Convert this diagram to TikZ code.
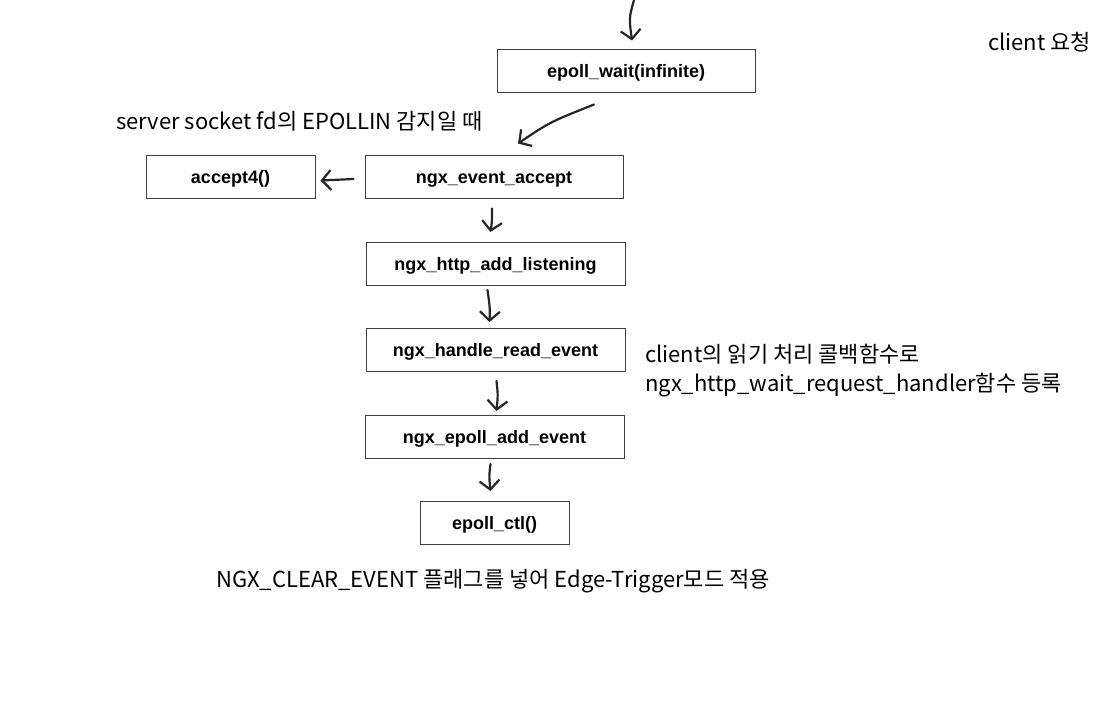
\documentclass[tikz,border=0pt]{standalone}
\usepackage{fontspec}
\setmainfont{Liberation Sans}
\newfontfamily\kr{Noto Sans CJK KR}
\usetikzlibrary{arrows.meta}

\begin{document}
\begin{tikzpicture}[x=1pt,y=-1pt,
  box/.style={draw=black!75,line width=1pt,minimum height=43pt,inner sep=0pt,
    text height=13pt,text depth=0pt,font=\fontsize{18}{20}\selectfont\bfseries},
  note/.style={anchor=west,inner sep=0pt,font=\kr\fontsize{22}{24}\selectfont},
  hand/.style={draw=black!85,line width=2.2pt,line cap=round,line join=round,
    -{Straight Barb[length=9pt,width=20pt]}}]
  \useasboundingbox[fill=white] (0,0) rectangle (1100,713);
  \node[box,minimum width=258pt] (wait) at (626,70.5) {epoll\_wait(infinite)};
  \node[box,minimum width=258pt] (event) at (494,176.5) {ngx\_event\_accept};
  \node[box,minimum width=169pt] (accept) at (230.5,176.5) {accept4()};
  \node[box,minimum width=259pt] (listen) at (495.5,264) {ngx\_http\_add\_listening};
  \node[box,minimum width=259pt] (read) at (495.5,350) {ngx\_handle\_read\_event};
  \node[box,minimum width=259pt] (add) at (494.5,437) {ngx\_epoll\_add\_event};
  \node[box,minimum width=149pt] (ctl) at (494.5,523) {epoll\_ctl()};
  % labels
  \node[note] (request) at (988,42) {client 요청};
  \node[note] (epollin) at (116,121) {server socket fd의 EPOLLIN 감지일 때};
  \node[note] (cb) at (645,354) {client의 읽기 처리 콜백함수로};
  \node[note] (handler) at (645,385) {ngx\_http\_wait\_request\_handler함수 등록};
  \node[note] (clear) at (216,581) {NGX\_CLEAR\_EVENT 플래그를 넣어 Edge-Trigger모드 적용};
  % hand drawn arrows
  \coordinate (top) at (634,0);
  \draw[hand] (top) .. controls (629,18) .. ([xshift=6pt,yshift=8pt]wait.north);
  \draw[hand] ([xshift=-32pt,yshift=-12pt]wait.south) .. controls (550,122) .. ([xshift=24pt,yshift=11pt]event.north);
  \draw[hand] ([xshift=-11pt,yshift=-2.5pt]event.west) -- ([xshift=5pt,yshift=-4pt]accept.east);
  \draw[hand] ([xshift=-2pt,yshift=-10pt]event.south) .. controls (492,222) .. ([xshift=-5pt,yshift=10pt]listen.north);
  \draw[hand] ([xshift=-8pt,yshift=-4pt]listen.south) .. controls (490,308) .. ([xshift=-6pt,yshift=6pt]read.north);
  \draw[hand] ([xshift=1pt,yshift=-9pt]read.south) .. controls (498,395) .. ([xshift=2pt,yshift=4pt]add.north);
  \draw[hand] ([xshift=-4pt,yshift=-5pt]add.south) .. controls (489,476) .. ([xshift=-4pt,yshift=10pt]ctl.north);
\end{tikzpicture}
\end{document}
